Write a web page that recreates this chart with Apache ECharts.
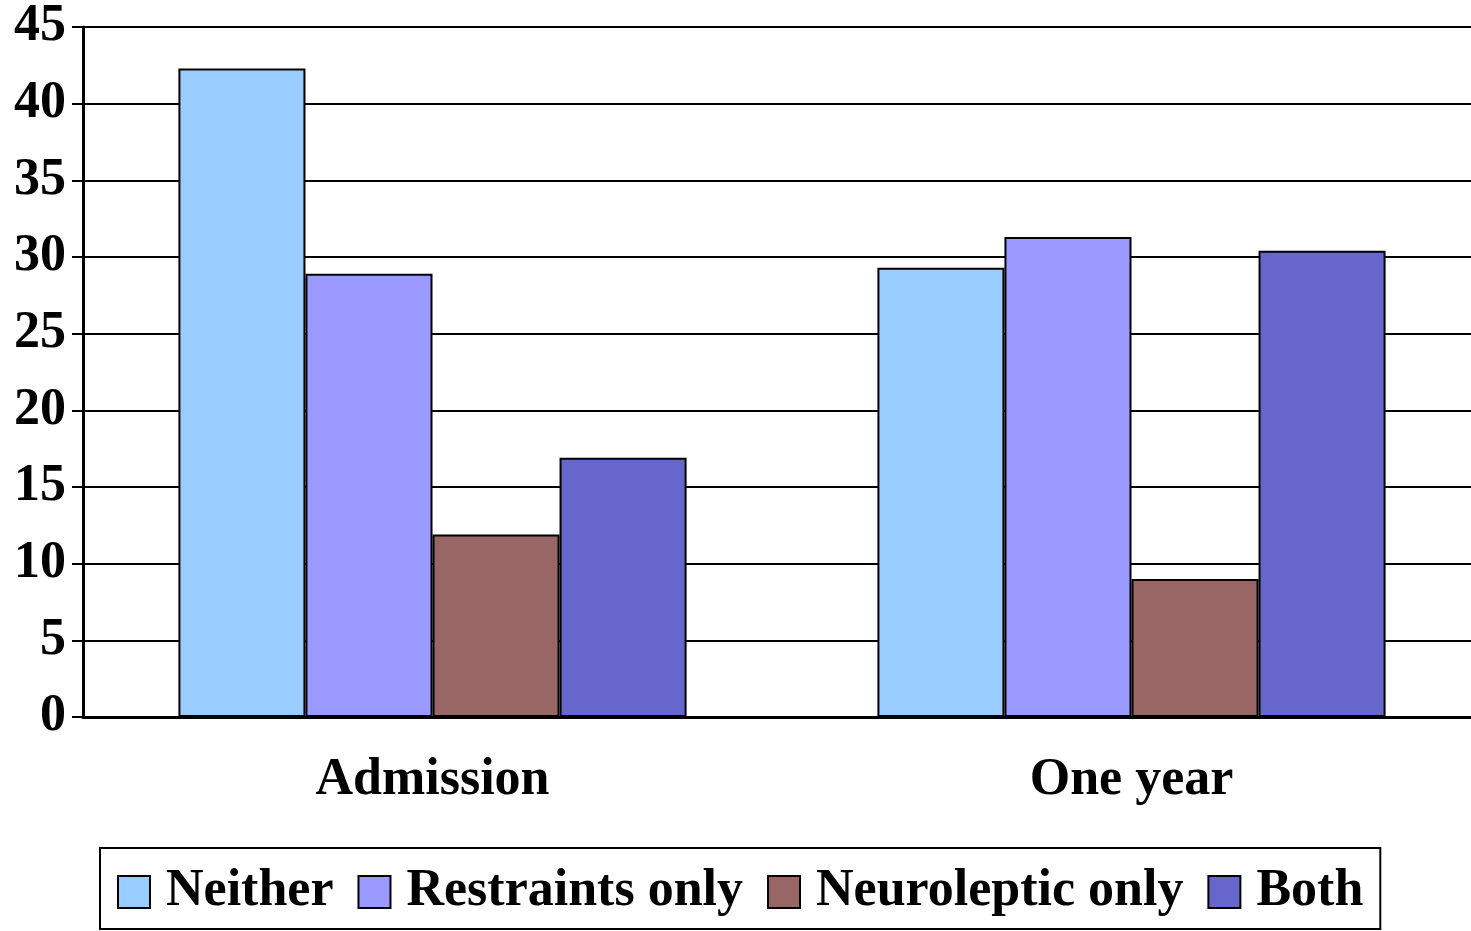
<!DOCTYPE html>
<html>
<head>
<meta charset="utf-8">
<script src="https://cdn.jsdelivr.net/npm/echarts@6/dist/echarts.min.js"></script>
<style>
html,body{margin:0;padding:0;background:#fff;overflow:hidden;width:1471px;height:931px;}
#chart{width:1481px;height:931px;}
</style>
</head>
<body>
<div id="chart"></div>
<script>
const categories = ['Admission', 'One year'];
const seriesNames = ['Neither', 'Restraints only', 'Neuroleptic only', 'Both'];
const neither = [42.3, 29.3];
const restraintsOnly = [28.9, 31.3];
const neurolepticOnly = [11.9, 9.0];
const both = [16.9, 30.4];
const colors = ['#99CCFF', '#9999FF', '#996666', '#6666CC'];

const font = 'Liberation Serif, Times New Roman, serif';
const values = [neither, restraintsOnly, neurolepticOnly, both];

const chart = echarts.init(document.getElementById('chart'), null, {renderer: 'canvas'});
chart.setOption({
  animation: false,
  backgroundColor: '#fff',
  grid: {left: 83, right: 0, top: 27, bottom: 214, containLabel: false},
  legend: {
    left: 100, top: 848,
    padding: [18, 17, 11, 17],
    borderColor: '#000', borderWidth: 2,
    itemWidth: 32, itemHeight: 32, itemGap: 24,
    icon: 'rect',
    textStyle: {fontFamily: font, fontWeight: 'bold', fontSize: 52, color: '#000', padding: [0, 0, 0, 11]},
    data: seriesNames
  },
  xAxis: {
    type: 'category', data: categories,
    axisLine: {lineStyle: {color: '#000', width: 3}},
    axisTick: {length: 11, lineStyle: {color: '#000', width: 2}},
    axisLabel: {fontFamily: font, fontWeight: 'bold', fontSize: 52, color: '#000', margin: 38}
  },
  yAxis: {
    type: 'value', min: 0, max: 45, interval: 5,
    axisLine: {show: true, lineStyle: {color: '#000', width: 3}},
    axisTick: {show: true, length: 11, lineStyle: {color: '#000', width: 2}},
    splitLine: {lineStyle: {color: '#000', width: 2}},
    axisLabel: {fontFamily: font, fontWeight: 'bold', fontSize: 52, color: '#000', margin: 17}
  },
  series: seriesNames.map((n, i) => ({
    name: n, type: 'bar', data: values[i],
    barGap: '0%', barCategoryGap: '27.3%',
    itemStyle: {color: colors[i], borderColor: '#000', borderWidth: 2}
  }))
});
</script>
</body>
</html>
